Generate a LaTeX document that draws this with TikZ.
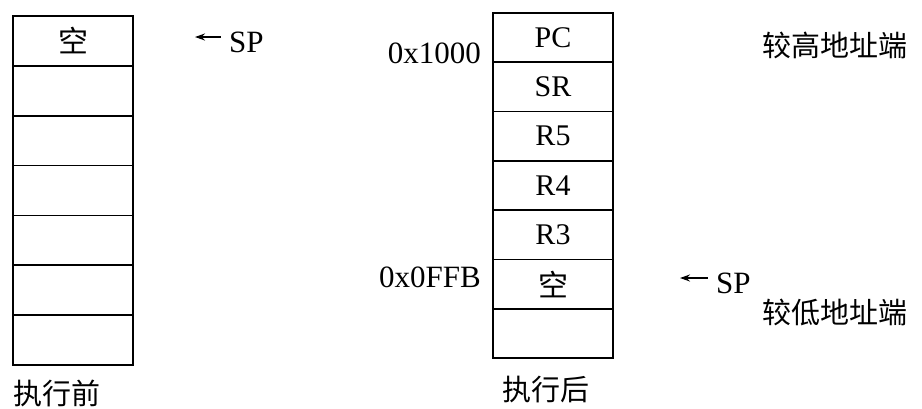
\documentclass[tikz,border=0pt]{standalone}
\usepackage{fontspec}
\setmainfont{Liberation Serif}
\newfontfamily\cjk{Noto Sans CJK SC}
\usetikzlibrary{arrows.meta}
\begin{document}
\begin{tikzpicture}[x=1pt,y=-1pt,
  cellbox/.style={draw,line width=1.8pt,minimum width=120pt,inner sep=0pt,outer sep=0pt,font=\fontsize{30}{30}\selectfont},
  outerbox/.style={draw,line width=2.8pt},
  lbl/.style={inner sep=0pt,font=\fontsize{31}{31}\selectfont},
  cjklbl/.style={inner sep=0pt,font=\cjk\fontsize{29}{29}\selectfont},
  sparrow/.style={line width=1.8pt,{Stealth[length=10pt,width=7pt]}-}]
\useasboundingbox (0,0) rectangle (922,408);
% left stack
\foreach \i/\t in {1/{\cjk 空},2/{},3/{},4/{},5/{},6/{},7/{}}{
  \node[cellbox,minimum height=49.86pt] (l\i) at (73,{16+49.86*(\i-0.5)}) {\t};
}
\draw[outerbox] (l1.north west) rectangle (l7.south east);
% right stack
\foreach \i/\t in {1/PC,2/SR,3/R5,4/R4,5/R3,6/{\cjk 空},7/{}}{
  \node[cellbox,minimum height=49.29pt] (r\i) at (553,{13+49.29*(\i-0.5)}) {\t};
}
\draw[outerbox] (r1.north west) rectangle (r7.south east);
% captions
\node[cjklbl,anchor=west] (capl) at (13,393) {执行前};
\node[cjklbl] (capr) at (546,390) {执行后};
% addresses
\node[lbl,anchor=east] (a1000) at (481,53) {0x1000};
\node[lbl,anchor=east] (a0ffb) at (481,277) {0x0FFB};
% SP pointers
\node[lbl,anchor=west] (spl) at (229,42) {SP};
\coordinate (spltip) at (195,37);
\coordinate (spltail) at (221,37);
\draw[sparrow] (spltip) -- (spltail);
\node[lbl,anchor=west] (spr) at (716,283) {SP};
\coordinate (sprtip) at (680,278);
\coordinate (sprtail) at (708,278);
\draw[sparrow] (sprtip) -- (sprtail);
% ends
\node[cjklbl,anchor=west] (hi) at (762,45) {较高地址端};
\node[cjklbl,anchor=west] (lo) at (762,312) {较低地址端};
\end{tikzpicture}
\end{document}
